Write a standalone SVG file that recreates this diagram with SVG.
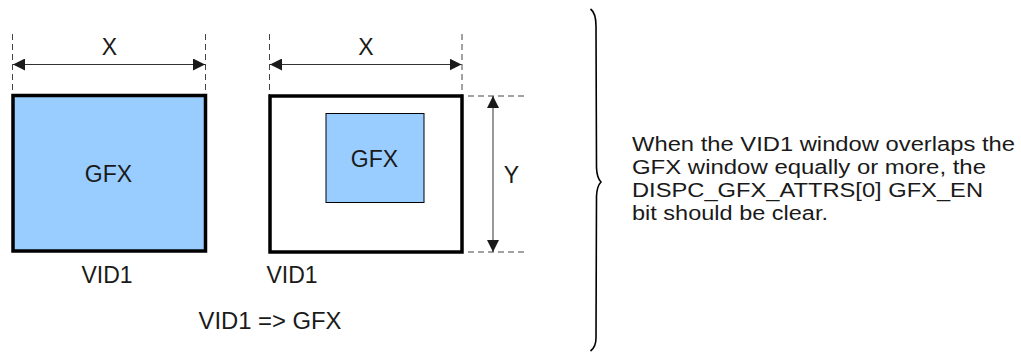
<svg xmlns="http://www.w3.org/2000/svg" width="1021" height="352" viewBox="0 0 1021 352">
<defs>
<style>
text{font-family:"Liberation Sans",Arial,sans-serif;font-size:23px;fill:#1a1a1a}
.mid{text-anchor:middle}
.note{font-size:20px}
.win{stroke:#000;stroke-width:3.5}
.blue{fill:#99ccff}
.dash{stroke:#444;stroke-width:1;stroke-dasharray:6 4;fill:none}
.dim{stroke:#333;stroke-width:1;fill:none;marker-start:url(#ah);marker-end:url(#ah)}
</style>
<marker id="ah" viewBox="0 0 12 12" refX="12" refY="6" markerWidth="12" markerHeight="12" markerUnits="userSpaceOnUse" orient="auto-start-reverse">
<path d="M0,0 L12,6 L0,12 Z" fill="#1a1a1a"/>
</marker>
</defs>
<rect width="1021" height="352" fill="#fff"/>
<g id="connectors">
<line class="dash" x1="12.5" y1="34" x2="12.5" y2="95"/>
<line class="dash" x1="205.5" y1="34" x2="205.5" y2="95"/>
<line class="dim" x1="13" y1="64.5" x2="205" y2="64.5"/>
<line class="dash" x1="269.5" y1="34" x2="269.5" y2="95"/>
<line class="dash" x1="462" y1="34" x2="462" y2="95"/>
<line class="dim" x1="270" y1="64.5" x2="461.5" y2="64.5"/>
<line class="dash" x1="468" y1="96" x2="528" y2="96"/>
<line class="dash" x1="468" y1="252" x2="528" y2="252"/>
<line class="dim" x1="493" y1="96" x2="493" y2="252"/>
</g>
<g id="vid1-left">
<rect class="win blue" x="13" y="95.5" width="192.5" height="155.5"/>
<text class="mid" x="108.5" y="182">GFX</text>
</g>
<g id="vid1-right">
<rect class="win" x="270" y="96" width="192" height="156" fill="#fff"/>
</g>
<g id="gfx-inner">
<rect class="blue" x="326" y="113.5" width="98" height="89" stroke="#000" stroke-width="1"/>
<text class="mid" x="374.5" y="167">GFX</text>
</g>
<g id="labels">
<text class="mid" x="109.5" y="55">X</text>
<text class="mid" x="366" y="55">X</text>
<text class="mid" x="511.5" y="183">Y</text>
<text class="mid" x="107" y="283">VID1</text>
<text class="mid" x="292" y="283">VID1</text>
<text class="mid" x="270" y="329" textLength="143" lengthAdjust="spacingAndGlyphs">VID1 =&gt; GFX</text>
</g>
<g id="brace">
<path d="M590.5,9 Q596,13 596,26 L596.5,168 Q597,178 601,182 Q597,186 596.5,196 L596,338 Q596,347 590.5,351" fill="none" stroke="#000" stroke-width="1.6"/>
</g>
<g id="note">
<text class="note" x="632" y="151" textLength="383" lengthAdjust="spacingAndGlyphs">When the VID1 window overlaps the</text>
<text class="note" x="632" y="174" textLength="354" lengthAdjust="spacingAndGlyphs">GFX window equally or more, the</text>
<text class="note" x="632" y="197" textLength="351" lengthAdjust="spacingAndGlyphs">DISPC_GFX_ATTRS[0] GFX_EN</text>
<text class="note" x="632" y="220" textLength="196" lengthAdjust="spacingAndGlyphs">bit should be clear.</text>
</g>
</svg>
